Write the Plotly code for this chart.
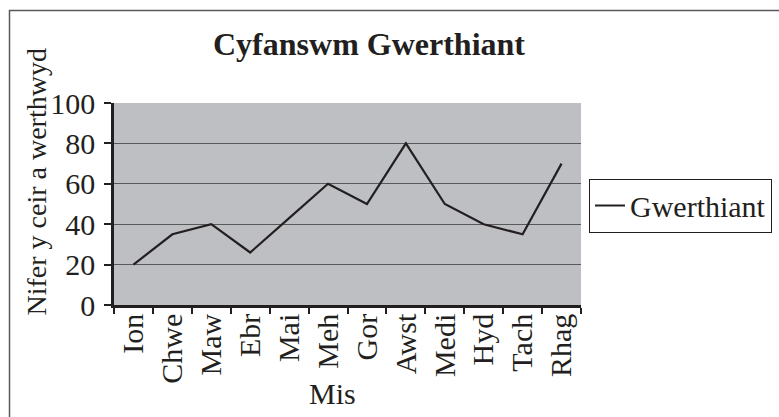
import plotly.graph_objects as go

months = ["Ion", "Chwe", "Maw", "Ebr", "Mai", "Meh", "Gor", "Awst", "Medi", "Hyd", "Tach", "Rhag"]
sales = [20, 35, 40, 26, 43, 60, 50, 80, 50, 40, 35, 70]
y_ticks = [0, 20, 40, 60, 80, 100]

title_text = "Cyfanswm Gwerthiant"
x_title = "Mis"
y_title = "Nifer y ceir a werthwyd"
series_name = "Gwerthiant"

FONT = "Liberation Serif, Times New Roman, serif"
INK = "#231f20"

W, H = 779, 417
L, R, T, B = 114, 198, 103, 112
pw = W - L - R
ph = H - T - B

def px(x):
    return (x - L) / pw

def py(y):
    return (H - B - y) / ph

fig = go.Figure()
fig.add_trace(go.Scatter(
    x=months, y=sales, mode="lines", name=series_name,
    line=dict(color=INK, width=2.2),
))

fig.update_layout(
    width=W, height=H,
    margin=dict(l=L, r=R, t=T, b=B, autoexpand=False),
    paper_bgcolor="white",
    plot_bgcolor="#bebfc3",
    font=dict(family=FONT, color=INK, size=29),
    title=dict(text="<b>" + title_text + "</b>", x=369 / W, xanchor="center",
               y=1 - 44 / H, yanchor="middle",
               font=dict(family=FONT, size=32, color=INK)),
    showlegend=True,
    legend=dict(x=px(589), xanchor="left", y=py(178.5), yanchor="top",
                bgcolor="white", bordercolor=INK, borderwidth=1,
                font=dict(family=FONT, size=30, color=INK),
                itemwidth=30, tracegroupgap=0),
    xaxis=dict(
        type="category", categoryorder="array", categoryarray=months,
        range=[-0.5, len(months) - 0.5],
        showline=True, linecolor=INK, linewidth=2.5,
        ticks="outside", tickson="boundaries", ticklen=6, tickwidth=2, tickcolor=INK,
        ticklabelstandoff=-6,
        tickangle=-90, tickfont=dict(family=FONT, size=30, color=INK),
        showgrid=False, zeroline=False, fixedrange=True,
    ),
    yaxis=dict(
        range=[0, 100], tickmode="array", tickvals=y_ticks,
        showline=True, linecolor=INK, linewidth=2.5,
        ticks="outside", ticklen=7, tickwidth=2, tickcolor=INK,
        ticklabelstandoff=3,
        tickfont=dict(family=FONT, size=30, color=INK),
        showgrid=True, gridcolor="#58595b", gridwidth=1.3, zeroline=False, fixedrange=True,
    ),
    shapes=[dict(type="rect", xref="paper", yref="paper",
                 x0=px(9.5), x1=px(800), y0=py(440), y1=py(10.5),
                 line=dict(color="#58595b", width=1.5), layer="below")],
    annotations=[
        dict(text=y_title, xref="paper", yref="paper", x=px(36), y=py(182.5),
             xanchor="center", yanchor="middle", textangle=-90, showarrow=False,
             font=dict(family=FONT, size=28, color=INK)),
        dict(text=x_title, xref="paper", yref="paper", x=px(332), y=py(393),
             xanchor="center", yanchor="middle", showarrow=False,
             font=dict(family=FONT, size=30, color=INK)),
    ],
)

fig.write_html("out.html",
               config={"displayModeBar": False},
               post_script="document.body.style.margin='0';document.body.style.overflow='hidden';")
